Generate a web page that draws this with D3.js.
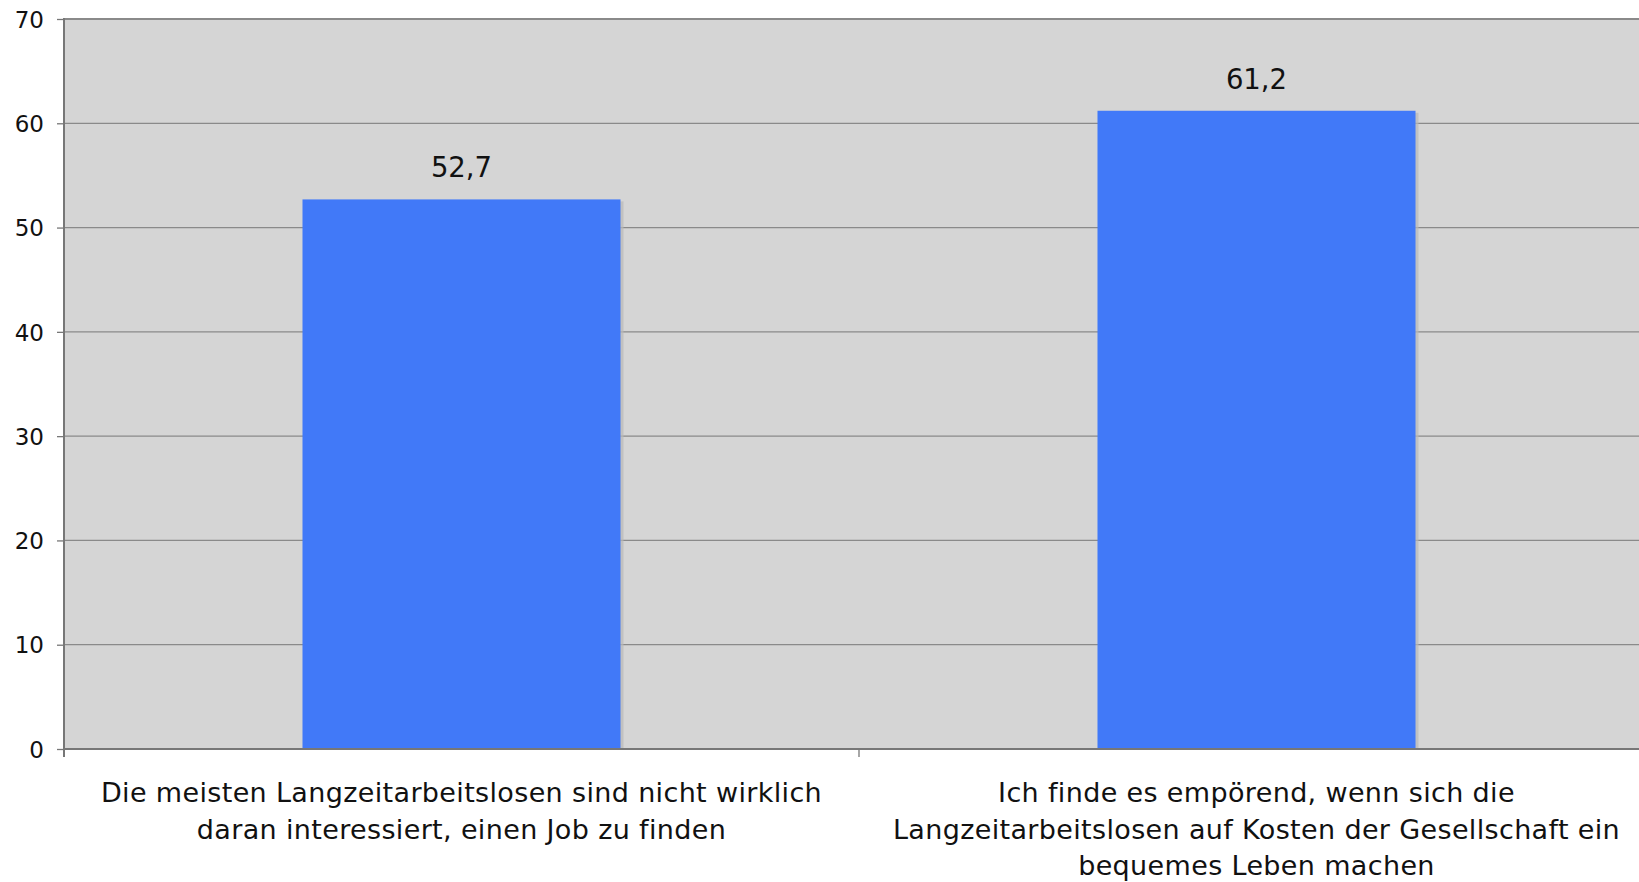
<!DOCTYPE html>
<html><head><meta charset="utf-8">
<script src="https://cdnjs.cloudflare.com/ajax/libs/d3/7.8.5/d3.min.js"></script>
<style>html,body{margin:0;padding:0;background:#fff;overflow:hidden}</style>
</head><body>
<svg id="c" width="1639" height="882"></svg>
<script>
const categories = ["cat1", "cat2"];
const categoryLines = [
  ["Die meisten Langzeitarbeitslosen sind nicht wirklich", "daran interessiert, einen Job zu finden"],
  ["Ich finde es empörend, wenn sich die", "Langzeitarbeitslosen auf Kosten der Gesellschaft ein", "bequemes Leben machen"]
];
const values = [52.7, 61.2];
const valueLabels = ["52,7", "61,2"];
const yTicks = [0, 10, 20, 30, 40, 50, 60, 70];

(function () {
const svg = d3.select("#c");
const font = "'DejaVu Sans', Verdana, sans-serif";
const pL = 64, pT = 19, pB = 749, pR = 1654;

const x = d3.scaleBand().domain(categories).range([pL, pR]).paddingInner(0.6).paddingOuter(0.3);
const y = d3.scaleLinear().domain([0, 70]).range([pB, pT]);

svg.append("rect").attr("x", pL).attr("y", pT).attr("width", pR - pL).attr("height", pB - pT).attr("fill", "#d5d5d5");

svg.append("g").selectAll("line").data(yTicks.filter(d => d > 0 && d < 70)).join("line")
  .attr("x1", pL).attr("x2", pR).attr("y1", d => y(d)).attr("y2", d => y(d))
  .attr("stroke", "#8a8a8a").attr("stroke-width", 1.3);
svg.append("line").attr("x1", pL).attr("x2", pR).attr("y1", pT).attr("y2", pT)
  .attr("stroke", "#8a8a8a").attr("stroke-width", 2);

svg.append("g").selectAll("rect").data(values).join("rect")
  .attr("x", (d, i) => x(categories[i]) + 3).attr("y", d => y(d) + 2)
  .attr("width", x.bandwidth()).attr("height", d => pB - y(d) - 2)
  .attr("fill", "#b8b8b8").attr("opacity", 0.7);
svg.append("g").selectAll("rect").data(values).join("rect")
  .attr("x", (d, i) => x(categories[i])).attr("y", d => y(d))
  .attr("width", x.bandwidth()).attr("height", d => pB - y(d))
  .attr("fill", "#4179f8");

svg.append("g").selectAll("text").data(values).join("text")
  .attr("x", (d, i) => x(categories[i]) + x.bandwidth() / 2)
  .attr("y", d => y(d) - 22)
  .attr("text-anchor", "middle").attr("font-family", font).attr("font-size", 27.5).attr("fill", "#111")
  .text((d, i) => valueLabels[i]);

const yAxis = svg.append("g").attr("transform", `translate(${pL},0)`)
  .call(d3.axisLeft(y).tickValues(yTicks).tickSize(7).tickPadding(13).tickFormat(d3.format("d")));
yAxis.select(".domain").remove();
yAxis.selectAll(".tick line").attr("stroke", "#777").attr("stroke-width", 1.3);
yAxis.selectAll("text").attr("font-family", font).attr("font-size", 23).attr("fill", "#111").attr("dy", "0.36em");
svg.append("line").attr("x1", pL).attr("x2", pL).attr("y1", pT - 1).attr("y2", pB + 8)
  .attr("stroke", "#777").attr("stroke-width", 2);

svg.append("line").attr("x1", pL).attr("x2", pR).attr("y1", pB).attr("y2", pB)
  .attr("stroke", "#777").attr("stroke-width", 2);
const step = x.step();
const boundaries = [pL, x(categories[0]) + x.bandwidth() / 2 + step / 2];
svg.append("g").selectAll("line").data(boundaries).join("line")
  .attr("x1", d => d).attr("x2", d => d).attr("y1", pB).attr("y2", pB + 8)
  .attr("stroke", "#777").attr("stroke-width", 1.3);

const lab = svg.append("g");
categories.forEach((c, i) => {
  const cx = x(c) + x.bandwidth() / 2;
  const t = lab.append("text").attr("text-anchor", "middle").attr("font-family", font)
    .attr("font-size", 27).attr("letter-spacing", 0.35).attr("fill", "#111");
  categoryLines[i].forEach((ln, j) => {
    t.append("tspan").attr("x", cx).attr("y", 802 + j * 36.5).text(ln);
  });
});
})();
</script>
</body></html>
